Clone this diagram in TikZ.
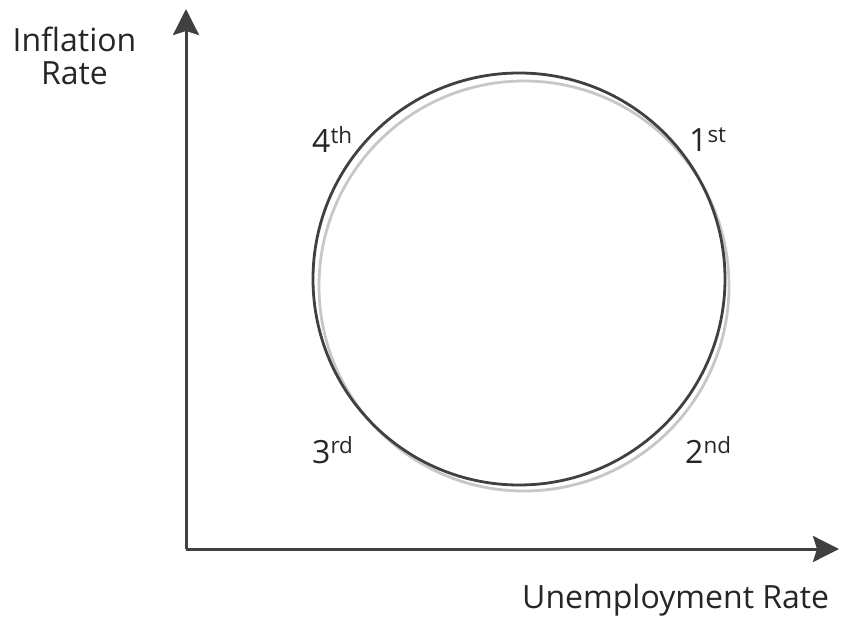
\documentclass[tikz,border=0pt]{standalone}
\usepackage{fontspec}
\setmainfont{Open Sans}
\usetikzlibrary{arrows.meta}
\begin{document}
\begin{tikzpicture}[x=1pt,y=-1pt,
  axis/.style={draw=black!75, line width=3pt, -{Stealth[length=26pt,width=26pt,inset=4pt]}},
  ring/.style={circle, draw=black!75, line width=2.8pt, inner sep=0pt, minimum size=412pt},
  shade/.style={circle, draw=black!22, line width=2.8pt, inner sep=0pt, minimum size=410pt},
  lbl/.style={font=\fontsize{32}{33}\selectfont, inner sep=0pt, text=black!85},
  ord/.style={lbl, anchor=base west}]
\useasboundingbox (0,0) rectangle (845,617);
\node[shade] (shadow) at (524,286) {};
\node[ring] (cycle) at (519,279) {};
\coordinate (O) at (186,549);
\coordinate (ytip) at (186,9);
\coordinate (xtip) at (839,549);
\draw[axis] (O) -- (ytip);
\draw[axis] (O) -- (xtip);
\node[lbl, anchor=base west] (xlab) at (522,608) {Unemployment Rate};
\node[lbl, anchor=base, align=center] (ylab) at (74.5,85) {Inflation\\Rate};
\node[ord] (q1) at (689,152) {1\textsuperscript{st}};
\node[ord] (q2) at (685,463) {2\textsuperscript{nd}};
\node[ord] (q3) at (312,463) {3\textsuperscript{rd}};
\node[ord] (q4) at (312,153) {4\textsuperscript{th}};
\end{tikzpicture}
\end{document}
